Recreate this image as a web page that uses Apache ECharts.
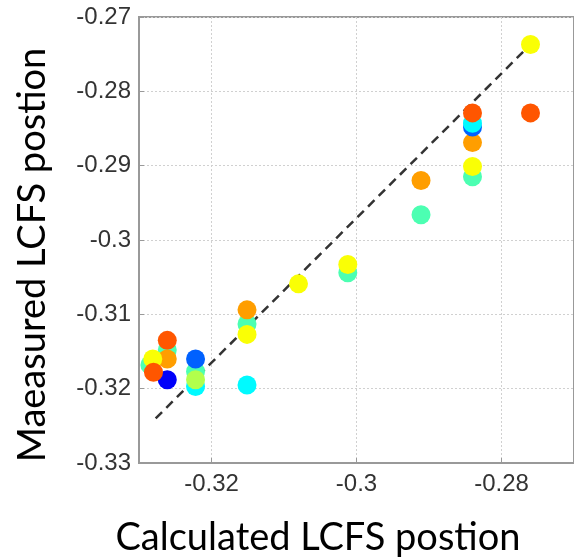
<!DOCTYPE html>
<html>
<head>
<meta charset="utf-8">
<script src="https://cdn.jsdelivr.net/npm/echarts@6/dist/echarts.min.js"></script>
<style>
  html, body { margin: 0; padding: 0; background: #fff; }
  #chart { width: 574px; height: 559px; }
</style>
</head>
<body>
<div id="chart"></div>
<script>
// measured points, in drawing order (later ones sit on top)
var calcX = [
    -0.2840, -0.2840, -0.2840, -0.2840, -0.2840, -0.2840,
    -0.2760, -0.2760,
    -0.2911, -0.2911,
    -0.3012, -0.3012,
    -0.3080,
    -0.3151, -0.3151, -0.3151, -0.3151,
    -0.3222, -0.3222, -0.3222, -0.3222,
    -0.3261, -0.3261, -0.3261, -0.3261,
    -0.3285, -0.3281, -0.3280
];
var measY = [
    -0.2915, -0.2901, -0.2869, -0.2848, -0.2843, -0.2829,
    -0.2829, -0.2737,
    -0.2920, -0.2966,
    -0.3044, -0.3033,
    -0.3059,
    -0.3113, -0.3094, -0.3127, -0.3195,
    -0.3197, -0.3177, -0.3188, -0.3160,
    -0.3148, -0.3135, -0.3160, -0.3188,
    -0.3168, -0.3160, -0.3178
];
// colour index (jet colormap, 0..1)
var shotIdx = [
    0.45, 0.62, 0.72, 0.22, 0.37, 0.79,
    0.79, 0.62,
    0.72, 0.45,
    0.45, 0.62,
    0.62,
    0.45, 0.72, 0.62, 0.37,
    0.37, 0.45, 0.55, 0.22,
    0.45, 0.79, 0.72, 0.12,
    0.45, 0.62, 0.79
];
// dashed fit line
var fitX = [-0.3277, -0.2760];
var fitY = [-0.3240, -0.2737];

var xTicks = [-0.32, -0.30, -0.28];

var jet = ['#00007f', '#0000ff', '#007fff', '#00ffff', '#7fff7f', '#ffff00', '#ff7f00', '#ff0000', '#7f0000'];

var pts = [];
for (var i = 0; i < calcX.length; i++) {
    pts.push([calcX[i], measY[i], shotIdx[i]]);
}
var fit = [];
for (var j = 0; j < fitX.length; j++) {
    fit.push([fitX[j], fitY[j]]);
}

var myChart = echarts.init(document.getElementById('chart'));

var tickFont = {
    fontFamily: 'Liberation Sans',
    fontSize: 24,
    color: '#333'
};

var option = {
    animation: false,
    grid: {
        left: 139,
        top: 17,
        width: 445.5,
        height: 446,
        show: true,
        borderColor: '#999',
        borderWidth: 2,
        containLabel: false
    },
    xAxis: {
        type: 'value',
        min: -0.33,
        max: -0.27,
        axisLine: { show: true, lineStyle: { color: '#999', width: 2 } },
        axisTick: {
            show: true, inside: true, length: 5,
            customValues: xTicks,
            lineStyle: { color: '#999' }
        },
        axisLabel: Object.assign({
            customValues: xTicks,
            margin: 9,
            formatter: function (v) { return String(+v.toFixed(2)); }
        }, tickFont),
        splitLine: {
            show: true,
            lineStyle: { color: '#d0d0d0', type: [2, 2], width: 1 }
        }
    },
    yAxis: {
        type: 'value',
        min: -0.33,
        max: -0.27,
        interval: 0.01,
        axisLine: { show: true, lineStyle: { color: '#999', width: 2 } },
        axisTick: { show: true, inside: true, length: 5, lineStyle: { color: '#999' } },
        axisLabel: Object.assign({
            margin: 8,
            formatter: function (v) { return String(+v.toFixed(2)); }
        }, tickFont),
        splitLine: {
            show: true,
            lineStyle: { color: '#d0d0d0', type: [2, 2], width: 1 }
        }
    },
    visualMap: {
        show: false,
        type: 'continuous',
        dimension: 2,
        min: 0,
        max: 1,
        seriesIndex: 1,
        inRange: { color: jet }
    },
    series: [
        {
            type: 'line',
            data: fit,
            symbol: 'none',
            z: 1,
            lineStyle: { color: '#333', width: 2.5, type: [9, 6] }
        },
        {
            type: 'scatter',
            data: pts,
            symbolSize: 19,
            z: 2,
            itemStyle: { opacity: 1 }
        }
    ],
    graphic: [
        {
            type: 'text',
            x: 33,
            y: 255,
            rotation: Math.PI / 2,
            style: {
                text: 'Maeasured LCFS postion',
                font: '38px Lato',
                fill: '#000',
                textAlign: 'center',
                textVerticalAlign: 'middle'
            }
        },
        {
            type: 'text',
            x: 318,
            y: 538,
            style: {
                text: 'Calculated LCFS postion',
                font: '38px Lato',
                fill: '#000',
                textAlign: 'center',
                textVerticalAlign: 'middle'
            }
        }
    ]
};

myChart.setOption(option);
</script>
</body>
</html>
